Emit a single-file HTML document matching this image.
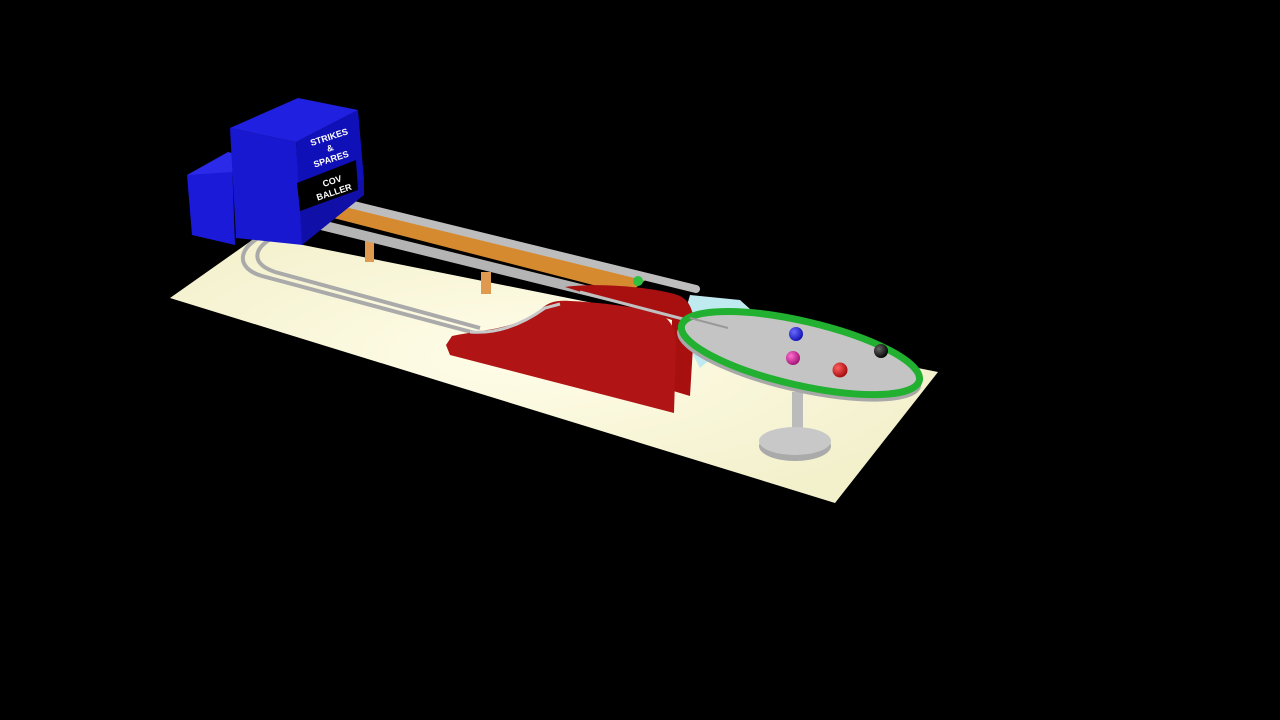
<!DOCTYPE html>
<html><head><meta charset="utf-8"><style>
html,body{margin:0;padding:0;background:#000;width:1280px;height:720px;overflow:hidden}
svg{display:block}
</style></head><body>
<svg width="1280" height="720" viewBox="0 0 1280 720">
<defs>
<radialGradient id="floorG" cx="0.45" cy="0.45" r="0.6">
<stop offset="0" stop-color="#fffde8"/><stop offset="1" stop-color="#f3f0cc"/>
</radialGradient>
<radialGradient id="bB" cx="0.35" cy="0.35" r="0.7"><stop offset="0" stop-color="#6a6aff"/><stop offset="1" stop-color="#1010b0"/></radialGradient>
<radialGradient id="bP" cx="0.35" cy="0.35" r="0.7"><stop offset="0" stop-color="#ff70d0"/><stop offset="1" stop-color="#a01070"/></radialGradient>
<radialGradient id="bR" cx="0.35" cy="0.35" r="0.7"><stop offset="0" stop-color="#ff6060"/><stop offset="1" stop-color="#a00808"/></radialGradient>
<radialGradient id="bK" cx="0.35" cy="0.35" r="0.7"><stop offset="0" stop-color="#666"/><stop offset="1" stop-color="#000"/></radialGradient>
</defs>
<rect width="1280" height="720" fill="#000"/>
<polygon points="170,298 258,236 938,372 835,503" fill="url(#floorG)"/>
<polygon points="690,295 740,300 760,318 700,368 680,330" fill="#bfeaf0"/>
<polygon points="318,214 336,200 648,278 628,294" fill="#d68a30"/>
<rect x="365" y="238" width="9" height="24" fill="#e09a50"/>
<rect x="481" y="272" width="10" height="22" fill="#e09a50"/>
<line x1="325" y1="198" x2="696" y2="289" stroke="#bdbdbd" stroke-width="8" stroke-linecap="round"/>
<line x1="305" y1="221" x2="690" y2="316" stroke="#b4b4b4" stroke-width="10" stroke-linecap="round"/>
<circle cx="638" cy="281" r="5" fill="#30c040"/>
<path d="M262,236 C238,248 235,268 262,276 L475,333" fill="none" stroke="#aaa" stroke-width="4"/>
<path d="M272,238 C252,250 252,264 275,272 L480,328" fill="none" stroke="#aaa" stroke-width="4"/>
<polygon points="187,175 232,160 235,245 192,235" fill="#1a1ad8"/>
<polygon points="187,175 228,152 262,160 232,172" fill="#2a2ae8"/>
<polygon points="230,128 296,142 303,245 236,238" fill="#1818d0"/>
<polygon points="230,128 298,98 358,110 296,142" fill="#2020e0"/>
<polygon points="296,142 358,110 364,180 300,212" fill="#1010b8"/>
<polygon points="300,212 364,180 364,195 302,245" fill="#1010a8"/>
<polygon points="297,183 356,160 358,190 300,211" fill="#000"/>
<g font-family="Liberation Sans Narrow, Liberation Sans, sans-serif" font-size="9" font-weight="bold" fill="#fff" text-anchor="middle">
<text transform="translate(330,140) rotate(-18)">STRIKES</text>
<text transform="translate(331,151) rotate(-18)">&amp;</text>
<text transform="translate(332,162) rotate(-18)">SPARES</text>
<text transform="translate(333,184) rotate(-18)">COV</text>
<text transform="translate(335,195) rotate(-18)">BALLER</text>
</g>
<path d="M565,287 C600,282 660,288 680,296 C692,302 694,315 694,330 L690,396 L670,390 L672,320 Z" fill="#a81010"/>
<path d="M446,345 L452,336 C480,330 515,330 540,310 C548,302 556,300 570,301 C610,303 640,308 660,314 C672,320 676,332 676,345 L674,413 L450,355 Z" fill="#b01414"/>
<path d="M470,332 C495,334 520,326 545,308 L560,304" fill="none" stroke="#c8c8c8" stroke-width="3"/>
<line x1="580" y1="292" x2="725" y2="330" stroke="#c0c0c0" stroke-width="3"/>
<rect x="792" y="392" width="11" height="46" fill="#bbb"/>
<ellipse cx="795" cy="446" rx="36" ry="15" fill="#aaa"/>
<ellipse cx="795" cy="441" rx="36" ry="14" fill="#c8c8c8"/>
<g transform="rotate(13 800 355)">
<ellipse cx="800" cy="359" rx="125" ry="33" fill="#a8a8a8"/>
<ellipse cx="800" cy="353" rx="122" ry="32" fill="#c4c4c4" stroke="#22b030" stroke-width="7"/>
</g>
<line x1="690" y1="318" x2="728" y2="328" stroke="#999" stroke-width="2"/>
<circle cx="796" cy="334" r="7" fill="url(#bB)"/>
<circle cx="793" cy="358" r="7" fill="url(#bP)"/>
<circle cx="840" cy="370" r="7.5" fill="url(#bR)"/>
<circle cx="881" cy="351" r="7" fill="url(#bK)"/>
</svg>
</body></html>
